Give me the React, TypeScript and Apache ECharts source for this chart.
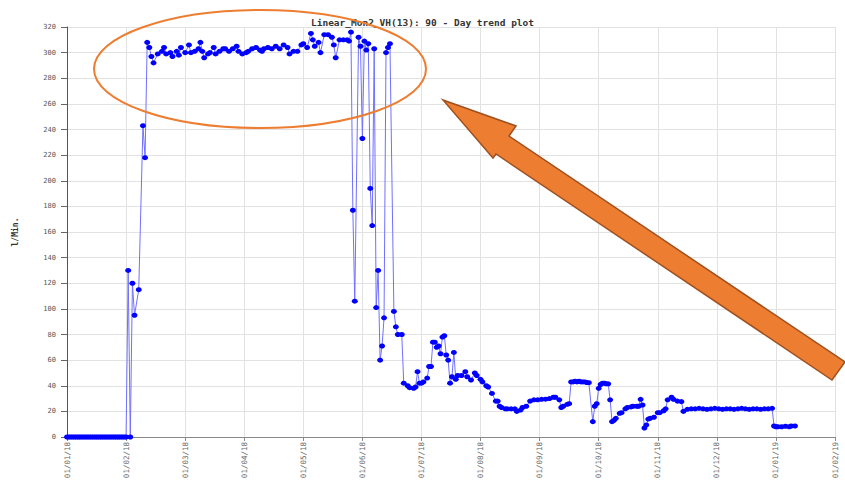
import React, { useEffect, useRef } from "react";
import * as echarts from "echarts";

const TITLE = "Linear_Mon2_VH(13): 90 - Day trend plot";
const Y_NAME = "l/Min.";
const START_YEAR = 2018;
const MONTH_COUNT = 13; // 01/01/18 .. 01/02/19
const Y_MIN = 0;
const Y_MAX = 320;
const Y_STEP = 20;

// [days since 01/01/18, flow in l/Min.]
const januaryIdle: [number, number][] = [
  [0, 0], [1, 0], [2, 0], [3, 0], [4, 0], [5, 0], [6, 0], [7, 0], [8, 0], [9, 0],
  [10, 0], [11, 0], [12, 0], [13, 0], [14, 0], [15, 0], [16, 0], [17, 0], [18, 0],
  [19, 0], [20, 0], [21, 0], [22, 0], [23, 0], [24, 0], [25, 0], [26, 0], [27, 0],
  [28, 0], [29, 0], [30, 0], [31, 0],
];

const startUp: [number, number][] = [
  [32, 130], [33, 0], [34, 120], [35, 95], [37, 115], [39, 243], [40, 218], [41, 308],
];

const plateau: [number, number][] = [
  [42, 304], [43, 297], [44, 292], [46, 299], [48, 301], [49, 304], [50, 299], [52, 300],
  [53, 297], [55, 301], [56, 298], [57, 304], [59, 300], [61, 306], [62, 300], [64, 301],
  [66, 303], [67, 308], [68, 301], [69, 296], [71, 299], [72, 300], [74, 304], [75, 299],
  [77, 301], [79, 303], [80, 303], [82, 301], [84, 303], [86, 305], [87, 301], [89, 299],
  [91, 300], [92, 301], [94, 303], [96, 304], [98, 302], [99, 301], [100, 303], [102, 304],
  [104, 303], [106, 305], [108, 303], [110, 306], [112, 304], [113, 299], [115, 301],
  [117, 301], [119, 306], [120, 307], [122, 304], [124, 315], [125, 310], [126, 305],
  [128, 308], [129, 300], [131, 314], [133, 314], [135, 312], [136, 306], [137, 296],
  [139, 310], [141, 310], [143, 310], [144, 309],
];

const collapse: [number, number][] = [
  [145, 316], [146, 177], [147, 106], [149, 312], [150, 305], [151, 233], [152, 309],
  [153, 302], [154, 307], [155, 194], [156, 165], [157, 303], [158, 101], [159, 130],
  [160, 60], [161, 71], [162, 93], [163, 300], [164, 304], [165, 307], [167, 98],
  [168, 86], [169, 80], [171, 80], [172, 42],
];

const summer: [number, number][] = [
  [174, 40], [175, 38.5], [177, 38], [178, 39], [179, 51], [180, 42], [181, 42], [182, 43],
  [184, 46], [185, 55], [186, 55], [187, 74], [188, 74], [189, 70], [190, 71], [191, 65],
  [192, 78], [193, 79], [194, 64], [195, 60], [196, 42], [197, 47], [198, 66], [199, 45],
  [200, 48], [202, 48], [204, 51], [205, 47], [207, 44.5], [209, 50], [210, 48], [212, 45],
  [213, 43], [215, 40], [216, 39], [218, 34], [220, 28], [221, 28], [222, 24], [223, 23],
  [225, 22], [226, 22], [228, 22], [230, 22], [231, 20], [233, 21], [234, 23], [236, 24],
  [238, 28], [240, 29], [242, 29], [244, 29.4], [246, 29.5], [248, 30], [250, 31],
  [251, 31], [253, 29], [254, 23], [255, 24], [257, 25.5], [258, 26],
];

const autumn: [number, number][] = [
  [259, 43], [260, 43], [261, 43.5], [262, 43], [263, 43.5], [264, 43], [265, 43],
  [266, 43], [267, 42.5], [268, 42.4], [270, 12], [271, 24], [272, 26], [273, 38],
  [274, 41], [275, 42], [276, 42], [277, 41.5], [278, 41.5], [279, 29], [280, 12],
  [281, 13], [282, 14.6], [284, 18.5], [285, 19], [287, 22], [288, 23], [290, 23.5],
  [291, 24], [293, 24], [294, 24], [295, 29.4], [296, 25], [297, 7], [298, 9.4],
  [299, 14], [300, 14.6], [302, 15.4], [304, 19], [305, 19], [307, 20.5], [308, 22],
  [309, 29], [311, 31], [312, 29.4], [314, 28], [316, 27.6], [317, 20], [319, 21.6],
];

const december: [number, number][] = [
  [321, 22], [323, 22], [325, 22.4], [327, 22], [329, 21.6], [331, 22], [333, 22.4],
  [335, 22], [337, 21.6], [339, 22], [341, 22], [343, 21.6], [345, 22], [347, 22.4],
  [349, 22], [351, 21.6], [353, 22], [355, 22], [357, 21.6], [359, 22], [361, 22],
  [363, 22.4],
];

const newYear: [number, number][] = [
  [364, 8.6], [365, 8], [366, 8], [368, 8], [370, 8.4], [372, 8], [373, 8.6], [375, 8.6],
];

// Axis position in months (the source plot spaces months evenly)
function dayToMonthPos(day: number): number {
  const d = new Date(Date.UTC(START_YEAR, 0, 1 + day));
  const y = d.getUTCFullYear();
  const m = d.getUTCMonth();
  const dim = new Date(Date.UTC(y, m + 1, 0)).getUTCDate();
  return (y - START_YEAR) * 12 + m + (d.getUTCDate() - 1) / dim;
}

function monthLabel(v: number): string {
  const idx = Math.round(v);
  const y = START_YEAR + Math.floor(idx / 12);
  const m = (idx % 12) + 1;
  return "01/" + String(m).padStart(2, "0") + "/" + String(y).slice(2);
}

const allPoints = [
  ...januaryIdle, ...startUp, ...plateau, ...collapse, ...summer, ...autumn, ...december, ...newYear,
];

// annotation arrow geometry (pixels)
const ARROW_POINTS = [
  [443, 100], [516, 126], [509, 136], [845, 362], [832, 380], [496, 154], [493, 158],
];

export default function App() {
  const ref = useRef<HTMLDivElement>(null);
  useEffect(() => {
    const chart = echarts.init(ref.current!, null, { renderer: "svg" });
    const mono = "DejaVu Sans Mono";
    chart.setOption({
      animation: false,
      backgroundColor: "#ffffff",
      title: {
        text: TITLE,
        left: "center",
        top: 12,
        textStyle: { fontFamily: mono, fontSize: 9.5, fontWeight: "bold", color: "#333" },
      },
      grid: { left: 67, right: 10, top: 27, bottom: 45, containLabel: false, outerBoundsMode: "none" },
      xAxis: {
        type: "value",
        min: 0,
        max: MONTH_COUNT,
        interval: 1,
        axisLine: { show: true, lineStyle: { color: "#888", width: 1 } },
        axisTick: { show: true, length: 4, lineStyle: { color: "#888" } },
        axisLabel: {
          rotate: 90,
          margin: 5,
          fontSize: 7.5,
          fontFamily: mono,
          color: "#666",
          formatter: (v: number) => monthLabel(v),
        },
        splitLine: { show: true, lineStyle: { color: "#e2e2e2", width: 1 } },
      },
      yAxis: {
        type: "value",
        min: Y_MIN,
        max: Y_MAX,
        interval: Y_STEP,
        name: Y_NAME,
        nameLocation: "middle",
        nameGap: 48,
        nameTextStyle: { fontFamily: mono, fontSize: 8, fontWeight: "bold", color: "#333" },
        axisLine: { show: true, lineStyle: { color: "#555", width: 1 } },
        axisTick: { show: true, length: 6, lineStyle: { color: "#666" } },
        axisLabel: { fontSize: 7, fontFamily: mono, color: "#555", margin: 11 },
        splitLine: { show: true, lineStyle: { color: "#e2e2e2", width: 1 } },
      },
      series: [
        {
          type: "line",
          data: allPoints.map(([d, v]) => [dayToMonthPos(d), v]),
          symbol: "circle",
          symbolSize: [6, 5],
          showAllSymbol: true,
          itemStyle: { color: "#0000ff" },
          lineStyle: { color: "#7070ff", width: 1 },
          z: 5,
        },
      ],
      graphic: [
        {
          type: "ellipse",
          shape: { cx: 260, cy: 69, rx: 166, ry: 59 },
          style: { fill: "none", stroke: "#ED7D31", lineWidth: 2 },
          z: 100,
        },
        {
          type: "polygon",
          shape: { points: ARROW_POINTS },
          style: { fill: "#ED7D31", stroke: "#A0501E", lineWidth: 1.5 },
          z: 101,
        },
      ],
    });
    return () => chart.dispose();
  }, []);
  return (
    <div
      ref={ref}
      style={{ position: "fixed", left: 0, top: 0, width: 845, height: 482, background: "#fff" }}
    />
  );
}
